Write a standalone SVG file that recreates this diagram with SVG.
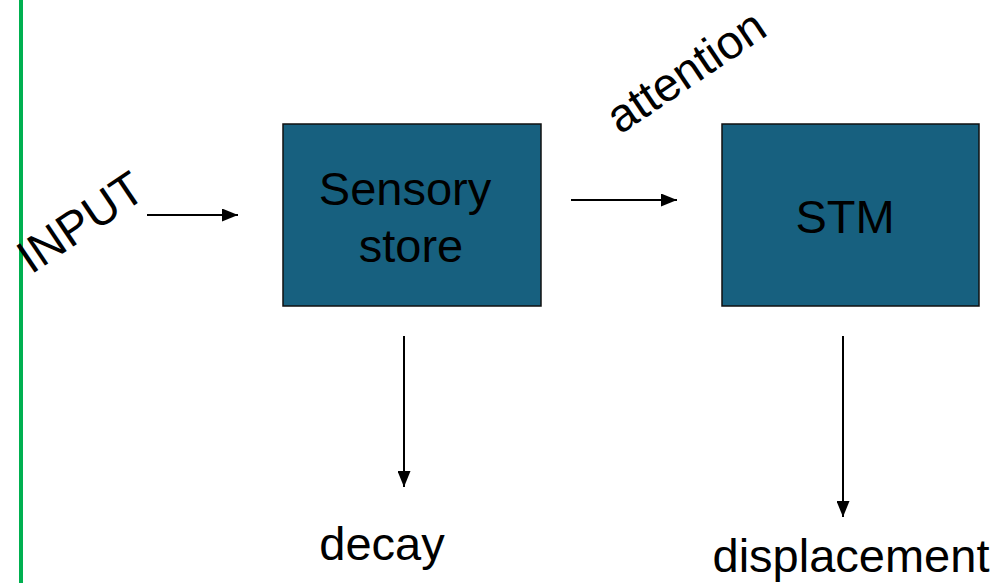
<svg xmlns="http://www.w3.org/2000/svg" width="997" height="583" viewBox="0 0 997 583">
<style>
.box{fill:#17607f;stroke:#111;stroke-width:1.5}
.t{font-family:"Liberation Sans",Arial,sans-serif;font-size:47px;fill:#000}
.c{text-anchor:middle}
.ln{stroke:#000;stroke-width:2;fill:none}
</style>
<defs>
<marker id="ah" viewBox="0 0 16 13" refX="16" refY="6.5" markerWidth="16" markerHeight="13" markerUnits="userSpaceOnUse" orient="auto">
<path d="M0,0 L16,6.5 L0,13 Z" fill="#000"/>
</marker>
</defs>
<rect x="19" y="0" width="4" height="583" fill="#00b050"/>
<g id="sensory">
<rect class="box" x="283" y="124" width="258" height="182"/>
<text class="t c" x="405" y="205">Sensory</text>
<text class="t c" x="411" y="262">store</text>
</g>
<g id="stm">
<rect class="box" x="722" y="124" width="257" height="182"/>
<text class="t c" x="845" y="233">STM</text>
</g>
<g id="input"><text class="t" transform="translate(31,275) rotate(-34)">INPUT</text></g>
<g id="attention"><text class="t" transform="translate(620,135) rotate(-34)">attention</text></g>
<g id="decay"><text class="t c" x="382" y="560">decay</text></g>
<g id="displacement"><text class="t c" x="851" y="572">displacement</text></g>
<g id="connectors">
<line class="ln" x1="147" y1="215" x2="238" y2="215" marker-end="url(#ah)"/>
<line class="ln" x1="571" y1="200" x2="677" y2="200" marker-end="url(#ah)"/>
<line class="ln" x1="404" y1="336" x2="404" y2="487" marker-end="url(#ah)"/>
<line class="ln" x1="843" y1="336" x2="843" y2="517" marker-end="url(#ah)"/>
</g>
</svg>
